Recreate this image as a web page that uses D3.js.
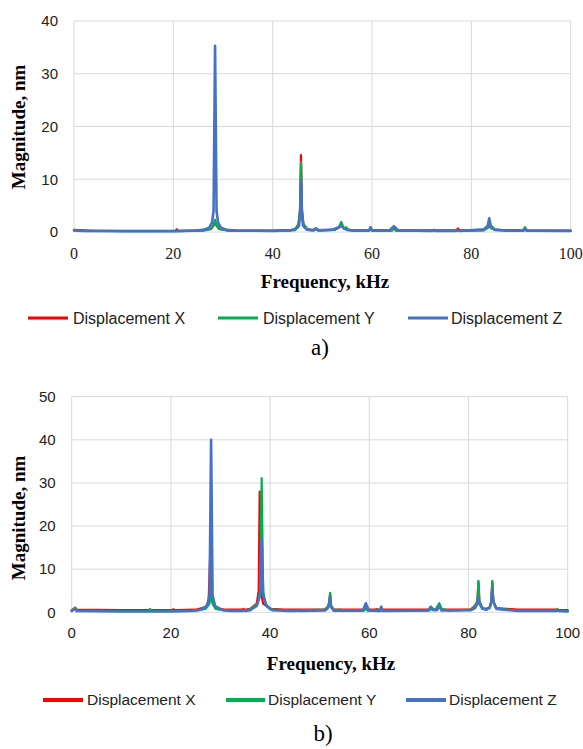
<!DOCTYPE html>
<html>
<head>
<meta charset="utf-8">
<script src="https://cdn.jsdelivr.net/npm/d3@7"></script>
<style>
  html, body { margin: 0; padding: 0; background: #fff; }
  svg { display: block; }
</style>
</head>
<body>
<svg id="chart" width="583" height="749"></svg>
<script>
// ---------- DATA ----------
const seriesNames = ["Displacement X", "Displacement Y", "Displacement Z"];
const xTicks = [0, 20, 40, 60, 80, 100];
const yTicksA = [0, 10, 20, 30, 40];
const yTicksB = [0, 10, 20, 30, 40, 50];

// Chart a) — [frequency kHz, magnitude nm]
const aX = [[0,0.4],[3,0.25],[10,0.2],[20.4,0.2],[20.7,0.5],[21,0.2],[26,0.3],[27.6,0.6],[28.1,1.2],[28.4,1.8],[28.7,1.2],[29.2,0.6],[31,0.3],[40,0.25],[44.5,0.4],[45.2,1.5],[45.5,4],[45.7,14.6],[45.9,4],[46.2,1.5],[47,0.5],[48.3,0.35],[48.7,0.6],[49.1,0.35],[52.5,0.4],[53.3,0.8],[53.8,1.3],[54.3,0.7],[55,0.45],[56,0.3],[59.4,0.3],[59.7,0.5],[60,0.3],[64,0.3],[64.4,0.7],[64.8,0.3],[77,0.3],[77.3,0.7],[77.6,0.3],[82.5,0.35],[83.3,0.8],[83.6,1.5],[83.9,0.8],[84.7,0.4],[90.5,0.3],[90.8,0.6],[91.1,0.3],[100,0.25]];
const aY = [[0,0.3],[10,0.15],[20,0.15],[26,0.25],[27.6,0.6],[28.1,1.3],[28.4,2.3],[28.7,1.3],[29.2,0.6],[31,0.25],[40,0.2],[44.5,0.35],[45.2,1.5],[45.5,4],[45.7,13.3],[45.9,4],[46.2,1.5],[47,0.5],[48.3,0.3],[48.7,0.6],[49.1,0.3],[52.5,0.4],[53.3,0.9],[53.8,1.9],[54.2,1.0],[54.5,0.7],[54.8,0.9],[55.2,0.4],[57,0.25],[59.4,0.25],[59.7,0.6],[60,0.25],[64,0.25],[64.4,0.9],[64.8,0.25],[72.2,0.2],[72.5,0.3],[72.8,0.2],[77,0.2],[77.3,0.4],[77.6,0.2],[82.5,0.3],[83.3,0.8],[83.6,1.8],[83.9,0.8],[84.7,0.35],[90.4,0.3],[90.8,0.9],[91.2,0.3],[100,0.2]];
const aZ = [[0,0.3],[2,0.2],[10,0.15],[20,0.15],[24,0.25],[26,0.4],[27.2,0.8],[27.8,1.8],[28.1,4],[28.4,35.3],[28.7,4],[29,1.8],[29.6,0.8],[30.8,0.4],[33,0.25],[40,0.2],[43.5,0.3],[44.9,0.7],[45.3,1.2],[45.5,3],[45.7,9.9],[45.9,3],[46.1,1.2],[46.8,0.5],[48,0.3],[48.7,0.7],[49.3,0.3],[52,0.45],[53.3,0.9],[53.8,1.2],[54.3,0.7],[55,0.4],[57,0.25],[59.4,0.3],[59.7,0.9],[60,0.3],[63.5,0.3],[64.4,1.1],[65.3,0.3],[72.2,0.2],[72.5,0.4],[72.8,0.2],[77,0.2],[77.3,0.35],[77.6,0.2],[82.5,0.5],[83.3,1.2],[83.6,2.6],[83.9,1.2],[84.7,0.5],[87,0.25],[90.5,0.25],[90.8,0.7],[91.1,0.25],[100,0.2]];

// Chart b)
const bX = [[0,0.5],[0.4,0.8],[0.7,1.1],[1,0.6],[10,0.5],[20.2,0.5],[20.5,0.7],[20.8,0.5],[25,0.6],[27,1.2],[27.6,2.5],[28.0,16],[28.3,2.5],[29,1.0],[31,0.6],[34.3,0.6],[34.6,0.8],[34.9,0.6],[36,0.8],[37.3,2],[37.7,5],[37.9,28],[38.1,5],[38.6,2],[40,0.8],[43,0.6],[45,0.6],[51,0.7],[51.6,1.2],[51.9,2.2],[52.1,4.2],[52.3,1.5],[52.8,0.7],[56,0.6],[59,0.6],[59.3,1.5],[59.6,0.6],[61.2,0.6],[61.5,0.8],[61.8,0.6],[72,0.6],[72.4,1.0],[72.8,0.6],[73.7,0.6],[74.1,1.6],[74.5,0.6],[80.5,0.7],[81.3,1.5],[81.8,2.5],[82,7.0],[82.2,2.5],[82.8,1.0],[83.6,0.8],[84.3,1.2],[84.6,2.5],[84.8,7.0],[85.0,2.5],[85.6,1],[90,0.6],[97.6,0.6],[97.9,0.7],[98.2,0.5],[100,0.5]];
const bY = [[0,0.3],[0.4,0.7],[0.7,1.0],[1,0.4],[10,0.3],[15.5,0.3],[15.8,0.8],[16.1,0.3],[25,0.4],[27,0.8],[27.8,2],[28.1,5],[28.4,2],[29,0.8],[31,0.4],[34.3,0.4],[34.6,0.6],[34.9,0.4],[36,0.7],[37.5,2],[38,5],[38.3,31.1],[38.6,5],[39,2],[40,0.7],[44,0.4],[51,0.6],[51.6,1.2],[51.9,2.2],[52.1,4.5],[52.3,1.5],[52.8,0.6],[53.7,0.5],[54,0.7],[54.3,0.4],[59,0.4],[59.3,1.2],[59.6,0.4],[61.2,0.4],[61.5,0.7],[61.8,0.4],[72.1,0.4],[72.4,0.8],[72.8,0.5],[73.5,0.9],[74.1,2.1],[74.6,0.8],[76,0.4],[80.5,0.6],[81.3,1.5],[81.8,2.5],[82,7.3],[82.2,2.5],[82.8,0.9],[83.6,0.6],[84.3,1.1],[84.6,2.5],[84.8,7.3],[85.0,2.5],[85.6,0.9],[90,0.4],[97.6,0.4],[97.9,0.8],[98.2,0.4],[100,0.3]];
const bZ = [[0,0.3],[0.4,0.6],[0.7,0.8],[1,0.3],[10,0.2],[20,0.2],[24,0.3],[26,0.6],[27.3,1.5],[27.8,4],[28.1,40],[28.4,4],[28.9,1.5],[30.2,0.6],[32,0.3],[34.3,0.3],[34.6,0.5],[34.9,0.3],[36,0.5],[37.3,1.5],[38,4],[38.3,17],[38.6,4],[39.3,1.5],[40.5,0.5],[44,0.3],[45.2,0.3],[45.5,0.5],[45.8,0.3],[51,0.4],[51.6,0.9],[51.9,1.6],[52.1,3.5],[52.3,1.2],[52.8,0.4],[58.7,0.4],[59.3,2.1],[59.9,0.4],[62.1,0.3],[62.4,1.3],[62.7,0.3],[71.8,0.4],[72.4,1.3],[73,0.5],[73.6,0.5],[74.1,1.5],[74.6,0.4],[80.5,0.5],[81.3,1.0],[81.8,2],[82,3.5],[82.2,2],[82.8,0.8],[83.6,0.6],[84.3,1.1],[84.6,2.5],[84.8,5.6],[85.0,2.5],[85.6,0.8],[90,0.3],[97.6,0.3],[97.9,0.4],[98.2,0.3],[100,0.2]];

const colors = ["#FF0000", "#00B050", "#4472C4"];

// ---------- DRAW ----------
const svg = d3.select("#chart");
const SERIF = "'Liberation Serif', 'Times New Roman', serif";
const SANS = "'Liberation Sans', Arial, sans-serif";

function drawPanel(cfg) {
  const x = d3.scaleLinear().domain([0, 100]).range([cfg.left, cfg.right]);
  const y = d3.scaleLinear().domain([0, cfg.yMax]).range([cfg.bottom, cfg.top]);
  const g = svg.append("g");

  // gridlines
  g.append("g").selectAll("line").data(cfg.yTicks).join("line")
    .attr("x1", cfg.left).attr("x2", cfg.right)
    .attr("y1", d => y(d)).attr("y2", d => y(d))
    .attr("stroke", "#d9d9d9").attr("stroke-width", 1);
  g.append("g").selectAll("line").data(xTicks).join("line")
    .attr("x1", d => x(d)).attr("x2", d => x(d))
    .attr("y1", cfg.top).attr("y2", cfg.bottom)
    .attr("stroke", "#d9d9d9").attr("stroke-width", 1);

  // y tick labels
  g.append("g").selectAll("text").data(cfg.yTicks).join("text")
    .attr("x", cfg.left - 16).attr("y", d => y(d)).attr("dy", "0.35em")
    .attr("text-anchor", "end")
    .attr("font-family", SANS).attr("font-size", 15).attr("fill", "#222")
    .text(d => d);

  // x tick labels
  g.append("g").selectAll("text").data(xTicks).join("text")
    .attr("x", d => x(d)).attr("y", cfg.xTickY).attr("dy", "0.35em")
    .attr("text-anchor", "middle")
    .attr("font-family", cfg.xTickFont).attr("font-size", cfg.xTickSize).attr("fill", "#222")
    .text(d => d);

  // lines
  const line = d3.line().x(d => x(d[0])).y(d => y(d[1]));
  cfg.series.forEach((s, i) => {
    g.append("path").datum(s)
      .attr("fill", "none").attr("stroke", colors[i])
      .attr("stroke-width", i === 2 ? 2.6 : 2.2)
      .attr("stroke-linejoin", "round").attr("stroke-linecap", "round")
      .attr("d", line);
  });

  // axis titles
  g.append("text")
    .attr("x", cfg.xTitleX).attr("y", cfg.xTitleY).attr("dy", "0.35em")
    .attr("text-anchor", "middle")
    .attr("font-family", SERIF).attr("font-weight", "bold").attr("font-size", 19)
    .text("Frequency, kHz");
  g.append("text")
    .attr("transform", `translate(18,${cfg.yTitleY}) rotate(-90)`)
    .attr("dy", "0.35em")
    .attr("text-anchor", "middle")
    .attr("font-family", SERIF).attr("font-weight", "bold").attr("font-size", 19)
    .text("Magnitude, nm");

  // legend
  const lg = g.append("g");
  seriesNames.forEach((name, i) => {
    const it = cfg.legend[i];
    lg.append("line")
      .attr("x1", it[0]).attr("x2", it[1])
      .attr("y1", cfg.legendY).attr("y2", cfg.legendY)
      .attr("stroke", colors[i]).attr("stroke-width", cfg.legendStroke);
    lg.append("text")
      .attr("x", it[2]).attr("y", cfg.legendY).attr("dy", "0.35em")
      .attr("font-family", SANS).attr("font-size", cfg.legendSize).attr("fill", "#222")
      .text(name);
  });

  // panel label
  g.append("text")
    .attr("x", cfg.labelX).attr("y", cfg.labelY).attr("dy", "0.35em")
    .attr("text-anchor", "middle")
    .attr("font-family", SERIF).attr("font-size", 23)
    .text(cfg.label);
}

drawPanel({
  left: 74, right: 570.7, top: 21, bottom: 232, yMax: 40, yTicks: yTicksA,
  xTickY: 253, xTickFont: SERIF, xTickSize: 16,
  xTitleX: 325, xTitleY: 281, yTitleY: 127,
  series: [aX, aY, aZ],
  legendY: 318, legendStroke: 3, legendSize: 16,
  legend: [[28, 68, 73], [218, 258, 263], [408, 448, 451]],
  label: "a)", labelX: 320, labelY: 347
});

drawPanel({
  left: 71.7, right: 567.7, top: 396.7, bottom: 612.3, yMax: 50, yTicks: yTicksB,
  xTickY: 633, xTickFont: SANS, xTickSize: 15,
  xTitleX: 331, xTitleY: 663, yTitleY: 518,
  series: [bX, bY, bZ],
  legendY: 700, legendStroke: 4, legendSize: 15.5,
  legend: [[43, 83, 87], [226, 265, 268], [406, 446, 449]],
  label: "b)", labelX: 323, labelY: 733
});
</script>
</body>
</html>
